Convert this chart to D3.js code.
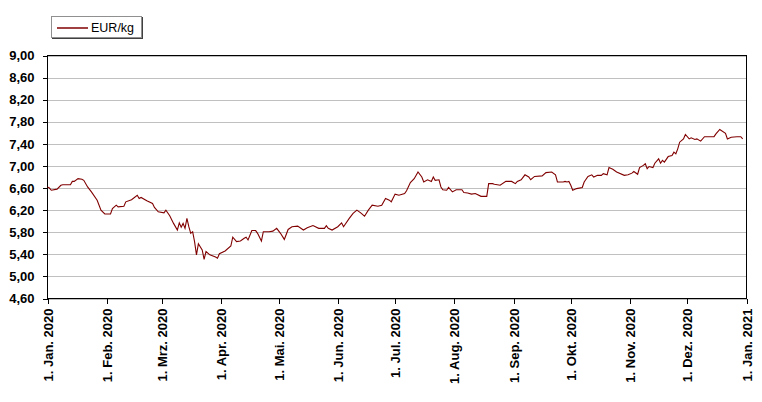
<!DOCTYPE html>
<html>
<head>
<meta charset="utf-8">
<script src="https://cdn.jsdelivr.net/npm/d3@7"></script>
<style>
  body { margin: 0; background: #fff; }
  svg { display: block; font-family: "Liberation Sans", Arial, sans-serif; }
  .axis text { font-weight: bold; font-size: 13px; fill: #000; }
  .axis path, .axis line { stroke: #000; shape-rendering: crispEdges; }
</style>
</head>
<body>
<div class="visHolder"></div>
<script>
var width = 762,
  height = 402;

// price series, EUR/kg
var dates = [
  "2020-01-01","2020-01-02","2020-01-03","2020-01-06","2020-01-08","2020-01-09","2020-01-13","2020-01-14",
  "2020-01-15","2020-01-17","2020-01-19","2020-01-20","2020-01-22","2020-01-24","2020-01-27","2020-01-29",
  "2020-01-31","2020-02-03","2020-02-04","2020-02-06","2020-02-07","2020-02-10","2020-02-11","2020-02-14",
  "2020-02-17","2020-02-18","2020-02-19","2020-02-22","2020-02-25","2020-02-26","2020-02-28","2020-03-02",
  "2020-03-03","2020-03-05","2020-03-07","2020-03-09","2020-03-10","2020-03-11","2020-03-12","2020-03-13",
  "2020-03-14","2020-03-15","2020-03-16","2020-03-17","2020-03-18","2020-03-19","2020-03-20","2020-03-22",
  "2020-03-23","2020-03-24","2020-03-26","2020-03-29","2020-03-30","2020-03-31","2020-04-03","2020-04-06",
  "2020-04-07","2020-04-09","2020-04-11","2020-04-13","2020-04-14","2020-04-15","2020-04-17","2020-04-19",
  "2020-04-20","2020-04-22","2020-04-23","2020-04-26","2020-04-28","2020-04-30","2020-05-02","2020-05-04",
  "2020-05-06","2020-05-08","2020-05-11","2020-05-14","2020-05-16","2020-05-19","2020-05-22","2020-05-25",
  "2020-05-26","2020-05-27","2020-05-29","2020-06-01","2020-06-03","2020-06-04","2020-06-07","2020-06-09",
  "2020-06-11","2020-06-13","2020-06-15","2020-06-17","2020-06-19","2020-06-22","2020-06-24","2020-06-26",
  "2020-06-28","2020-06-29","2020-07-01","2020-07-03","2020-07-06","2020-07-07","2020-07-09","2020-07-11",
  "2020-07-13","2020-07-15","2020-07-16","2020-07-18","2020-07-20","2020-07-21","2020-07-22","2020-07-24",
  "2020-07-25","2020-07-26","2020-07-28","2020-07-29","2020-07-31","2020-08-02","2020-08-05","2020-08-06",
  "2020-08-08","2020-08-10","2020-08-12","2020-08-15","2020-08-18","2020-08-19","2020-08-21","2020-08-22",
  "2020-08-25","2020-08-28","2020-08-31","2020-09-02","2020-09-03","2020-09-05","2020-09-07","2020-09-09",
  "2020-09-10","2020-09-12","2020-09-16","2020-09-18","2020-09-21","2020-09-23","2020-09-24","2020-09-27",
  "2020-09-28","2020-09-29","2020-09-30","2020-10-01","2020-10-02","2020-10-04","2020-10-07","2020-10-08",
  "2020-10-10","2020-10-12","2020-10-13","2020-10-15","2020-10-17","2020-10-18","2020-10-20","2020-10-21",
  "2020-10-23","2020-10-25","2020-10-29","2020-10-31","2020-11-02","2020-11-03","2020-11-05","2020-11-06",
  "2020-11-08","2020-11-09","2020-11-10","2020-11-11","2020-11-13","2020-11-14","2020-11-16","2020-11-17",
  "2020-11-18","2020-11-19","2020-11-21","2020-11-23","2020-11-24","2020-11-25","2020-11-26","2020-11-27",
  "2020-11-29","2020-11-30","2020-12-02","2020-12-03","2020-12-05","2020-12-06","2020-12-08","2020-12-10",
  "2020-12-12","2020-12-15","2020-12-16","2020-12-18","2020-12-21","2020-12-22","2020-12-24","2020-12-27",
  "2020-12-29","2020-12-30"
];
var prices = [
  6.62, 6.60, 6.56, 6.58, 6.65, 6.66, 6.66, 6.72,
  6.72, 6.77, 6.76, 6.74, 6.62, 6.53, 6.38, 6.20,
  6.13, 6.13, 6.23, 6.29, 6.26, 6.27, 6.35, 6.39,
  6.47, 6.41, 6.43, 6.37, 6.32, 6.25, 6.17, 6.15,
  6.20, 6.10, 5.96, 5.84, 5.97, 5.89, 5.96, 5.87,
  6.05, 5.90, 5.78, 5.81, 5.63, 5.39, 5.59, 5.48,
  5.31, 5.45, 5.39, 5.35, 5.33, 5.41, 5.46, 5.55,
  5.71, 5.63, 5.64, 5.69, 5.71, 5.66, 5.83, 5.83,
  5.78, 5.64, 5.81, 5.81, 5.82, 5.87, 5.78, 5.67,
  5.85, 5.90, 5.91, 5.84, 5.88, 5.92, 5.87, 5.87,
  5.92, 5.87, 5.84, 5.90, 5.97, 5.90, 6.05, 6.14,
  6.20, 6.15, 6.09, 6.20, 6.29, 6.27, 6.29, 6.41,
  6.38, 6.35, 6.49, 6.47, 6.50, 6.55, 6.70, 6.77,
  6.89, 6.80, 6.71, 6.75, 6.72, 6.80, 6.74, 6.75,
  6.62, 6.57, 6.56, 6.61, 6.53, 6.57, 6.57, 6.52,
  6.51, 6.49, 6.50, 6.45, 6.45, 6.68, 6.68, 6.67,
  6.65, 6.72, 6.72, 6.68, 6.72, 6.75, 6.84, 6.80,
  6.75, 6.81, 6.82, 6.88, 6.89, 6.84, 6.71, 6.71,
  6.72, 6.71, 6.72, 6.65, 6.56, 6.59, 6.61, 6.71,
  6.81, 6.84, 6.80, 6.83, 6.83, 6.86, 6.84, 6.97,
  6.94, 6.89, 6.83, 6.84, 6.87, 6.90, 6.85, 6.97,
  7.01, 7.04, 6.95, 6.99, 6.97, 7.05, 7.13, 7.05,
  7.10, 7.07, 7.17, 7.19, 7.25, 7.22, 7.31, 7.43,
  7.49, 7.57, 7.49, 7.51, 7.48, 7.49, 7.45, 7.53,
  7.53, 7.53, 7.58, 7.66, 7.59, 7.49, 7.52, 7.53,
  7.53, 7.49
];

var yTicks = [4.6, 5.0, 5.4, 5.8, 6.2, 6.6, 7.0, 7.4, 7.8, 8.2, 8.6, 9.0];
var monthNames = ["Jan.", "Feb.", "Mrz.", "Apr.", "Mai.", "Jun.", "Jul.", "Aug.", "Sep.", "Okt.", "Nov.", "Dez."];
var seriesName = "EUR/kg";

var parseDate = d3.timeParse("%Y-%m-%d");
var data = dates.map((d, i) => ({ date: parseDate(d), value: prices[i] }));

var plot = { left: 47.5, right: 746.5, top: 55.5, bottom: 298.5 };

var svg = d3.select(".visHolder").append("svg").attr("width", width).attr("height", height);

var xScale = d3.scaleTime()
  .domain([new Date(2020, 0, 1), new Date(2021, 0, 1)])
  .range([plot.left, plot.right]);

var yScale = d3.scaleLinear()
  .domain([4.6, 9.0])
  .range([plot.bottom, plot.top]);

// horizontal grid
svg.append("g")
  .selectAll("line")
  .data(yTicks)
  .enter()
  .append("line")
  .attr("x1", plot.left)
  .attr("x2", plot.right)
  .attr("y1", d => Math.round(yScale(d)) + 0.5)
  .attr("y2", d => Math.round(yScale(d)) + 0.5)
  .attr("stroke", "#c0c0c0")
  .attr("shape-rendering", "crispEdges");

// frame
svg.append("rect")
  .attr("x", plot.left)
  .attr("y", plot.top)
  .attr("width", plot.right - plot.left)
  .attr("height", plot.bottom - plot.top)
  .attr("fill", "none")
  .attr("stroke", "#000")
  .attr("shape-rendering", "crispEdges");

var yAxis = d3.axisLeft(yScale)
  .tickValues(yTicks)
  .tickSize(5)
  .tickSizeOuter(0)
  .tickPadding(8)
  .tickFormat(d => d3.format(".2f")(d).replace(".", ","));

svg.append("g")
  .attr("class", "axis")
  .attr("id", "y-axis")
  .attr("transform", "translate(" + plot.left + ",0)")
  .call(yAxis);

var xTicks = d3.range(13).map(i => new Date(2020, i, 1));

var xAxis = d3.axisBottom(xScale)
  .tickValues(xTicks)
  .tickSize(5)
  .tickSizeOuter(0)
  .tickFormat(d => "1. " + monthNames[d.getMonth()] + " " + d.getFullYear());

svg.append("g")
  .attr("class", "axis")
  .attr("id", "x-axis")
  .attr("transform", "translate(0," + plot.bottom + ")")
  .call(xAxis)
  .selectAll("text")
  .attr("transform", "rotate(-90)")
  .attr("x", -10)
  .attr("y", 0)
  .attr("dy", ".35em")
  .style("text-anchor", "end");

svg.selectAll(".axis .domain").remove();

// series line
var line = d3.line()
  .x(d => xScale(d.date))
  .y(d => yScale(d.value));

svg.append("path")
  .datum(data)
  .attr("fill", "none")
  .attr("stroke", "#800000")
  .attr("stroke-width", 1.1)
  .attr("d", line);

// legend
var legend = svg.append("g").attr("id", "legend");

legend.append("rect")
  .attr("x", 52.5)
  .attr("y", 17.5)
  .attr("width", 90)
  .attr("height", 21)
  .attr("fill", "none")
  .attr("stroke", "#404040")
  .attr("shape-rendering", "crispEdges");

legend.append("rect")
  .attr("x", 51.5)
  .attr("y", 16.5)
  .attr("width", 90)
  .attr("height", 21)
  .attr("fill", "#fff")
  .attr("stroke", "#909090")
  .attr("shape-rendering", "crispEdges");

legend.append("line")
  .attr("x1", 57)
  .attr("x2", 88)
  .attr("y1", 28)
  .attr("y2", 28)
  .attr("stroke", "#800000")
  .attr("stroke-width", 1.5);

legend.append("text")
  .attr("x", 91)
  .attr("y", 28)
  .attr("dy", ".35em")
  .style("font-size", "12.5px")
  .text(seriesName);
</script>
</body>
</html>
